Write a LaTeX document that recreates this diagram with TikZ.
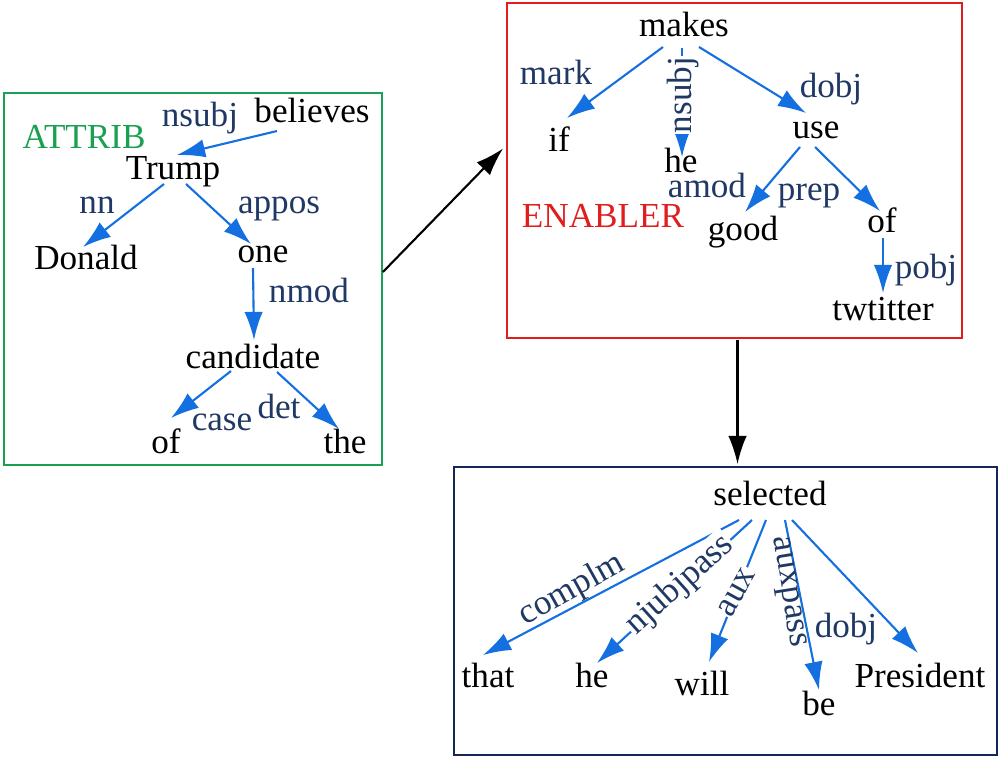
\documentclass[tikz,border=0pt]{standalone}
\usepackage{fontspec}
\setmainfont{Liberation Serif}
\usetikzlibrary{arrows.meta,calc}
\definecolor{deplabel}{RGB}{31,56,100}
\definecolor{deparrow}{RGB}{20,112,224}
\definecolor{attribgreen}{RGB}{26,160,80}
\definecolor{enablerred}{RGB}{224,30,30}
\definecolor{boxnavy}{RGB}{22,38,88}

\begin{document}
\begin{tikzpicture}[x=0.02cm, y=-0.02cm, inner sep=0mm,
		wordstyle/.style={anchor=base, font=\fontsize{20}{24}\selectfont},
		labelstyle/.style={wordstyle, text=deplabel},
		rotlabelstyle/.style={labelstyle, anchor=center},
		coverstyle/.style={rotlabelstyle, fill=white, inner sep=0.6pt},
		edgestyle/.style={draw=deparrow, line width=1.2pt, -{Latex[length=16pt, width=10.5pt]}},
		linkstyle/.style={draw=black, line width=1.2pt, -{Latex[length=16pt, width=10.5pt]}},
		boxstyle/.style={draw, line width=1.1pt}]
		\useasboundingbox (0,0) rectangle (1000,757);

		% frames
		\node [boxstyle, draw=attribgreen, minimum width=7.56cm, minimum height=7.44cm] (attribbox) at (193,279) {};
		\node [boxstyle, draw=enablerred, minimum width=9.1cm, minimum height=6.7cm] (enablerbox) at (734.5,170.5) {};
		\node [boxstyle, draw=boxnavy, minimum width=10.86cm, minimum height=5.76cm] (selbox) at (725.5,611) {};

		\draw [linkstyle] ($(attribbox.east)+(0,-7)$) -- ($(enablerbox.west)+(-3,-22)$);
		\draw [linkstyle] ($(enablerbox.south)+(3,1)$) -- ($(selbox.north)+(12,-2)$);

		\node [wordstyle, text=attribgreen] (attrib) at (84,148) {ATTRIB};
		\node [wordstyle, text=enablerred] (enabler) at (603,227) {ENABLER};

		% words
		\node [wordstyle] (believes) at (312,122) {believes};
		\node [wordstyle] (trump) at (173,179) {Trump};
		\node [wordstyle] (donald) at (86,269) {Donald};
		\node [wordstyle] (one) at (263,262) {one};
		\node [wordstyle] (candidate) at (253,368) {candidate};
		\node [wordstyle] (of1) at (166,453) {of};
		\node [wordstyle] (the) at (345,453) {the};

		\node [wordstyle] (makes) at (684,37) {makes};
		\node [wordstyle] (if) at (559,152) {if};
		\node [wordstyle] (he1) at (681,172) {he};
		\node [wordstyle] (use) at (816,138) {use};
		\node [wordstyle] (good) at (743,240) {good};
		\node [wordstyle] (of2) at (882,232) {of};
		\node [wordstyle] (twtitter) at (883,320) {twtitter};

		\node [wordstyle] (selected) at (770,505) {selected};
		\node [wordstyle] (that) at (488,687) {that};
		\node [wordstyle] (he2) at (592,687) {he};
		\node [wordstyle] (will) at (702,695) {will};
		\node [wordstyle] (be) at (819,715) {be};
		\node [wordstyle] (president) at (920,687) {President};

		% dependency arcs
		\foreach \head/\hx/\hy/\dep/\ex/\ey in {
			believes/-35/9/trump/4/-24, trump/-9/5/donald/-3/-22, trump/13/5/one/-12/-18,
			one/-10/6/candidate/1/-28, candidate/-22/3/of1/5/-35, candidate/24/4/the/-6/-24,
			makes/-21/10/if/8/-34, makes/-2/11/he1/1/-15, makes/15/10/use/-10/-25,
			use/-16/9/good/2/-28, use/-1/9/of2/-2/-21, of2/1/6/twtitter/0/-27,
			selected/-31/15/that/-5/-32, selected/-18/15/he2/5/-24, selected/-4/15/will/7/-33,
			selected/15/15/be/0/-25, selected/22/15/president/-2/-34}
			\draw [edgestyle] ($(\head.base)+(\hx,\hy)$) -- ($(\dep.base)+(\ex,\ey)$);

		% relation labels
		\node [labelstyle] (l-nsubj1) at (200,127) {nsubj};
		\node [labelstyle] (l-nn) at (97,213) {nn};
		\node [labelstyle] (l-appos) at (279,213) {appos};
		\node [labelstyle] (l-nmod) at (309,302) {nmod};
		\node [labelstyle] (l-case) at (222,430) {case};
		\node [labelstyle] (l-det) at (279,418) {det};
		\node [labelstyle] (l-mark) at (556,85) {mark};
		\node [coverstyle, rotate=90] (l-nsubj2) at (683,95) {nsubj};
		\node [labelstyle] (l-dobj1) at (831,97) {dobj};
		\node [labelstyle] (l-amod) at (707,197) {amod};
		\node [labelstyle] (l-prep) at (809,200) {prep};
		\node [labelstyle] (l-pobj) at (926,278) {pobj};
		\node [rotlabelstyle, rotate=29] (l-complm) at (572,590) {complm};
		\node [coverstyle, rotate=42] (l-njubjpass) at (680,585) {njubjpass};
		\node [coverstyle, rotate=61] (l-aux) at (737,592) {aux};
		\node [rotlabelstyle, rotate=-81] (l-auxpass) at (787,592) {auxpass};
		\node [labelstyle] (l-dobj2) at (846,637) {dobj};
\end{tikzpicture}
\end{document}
